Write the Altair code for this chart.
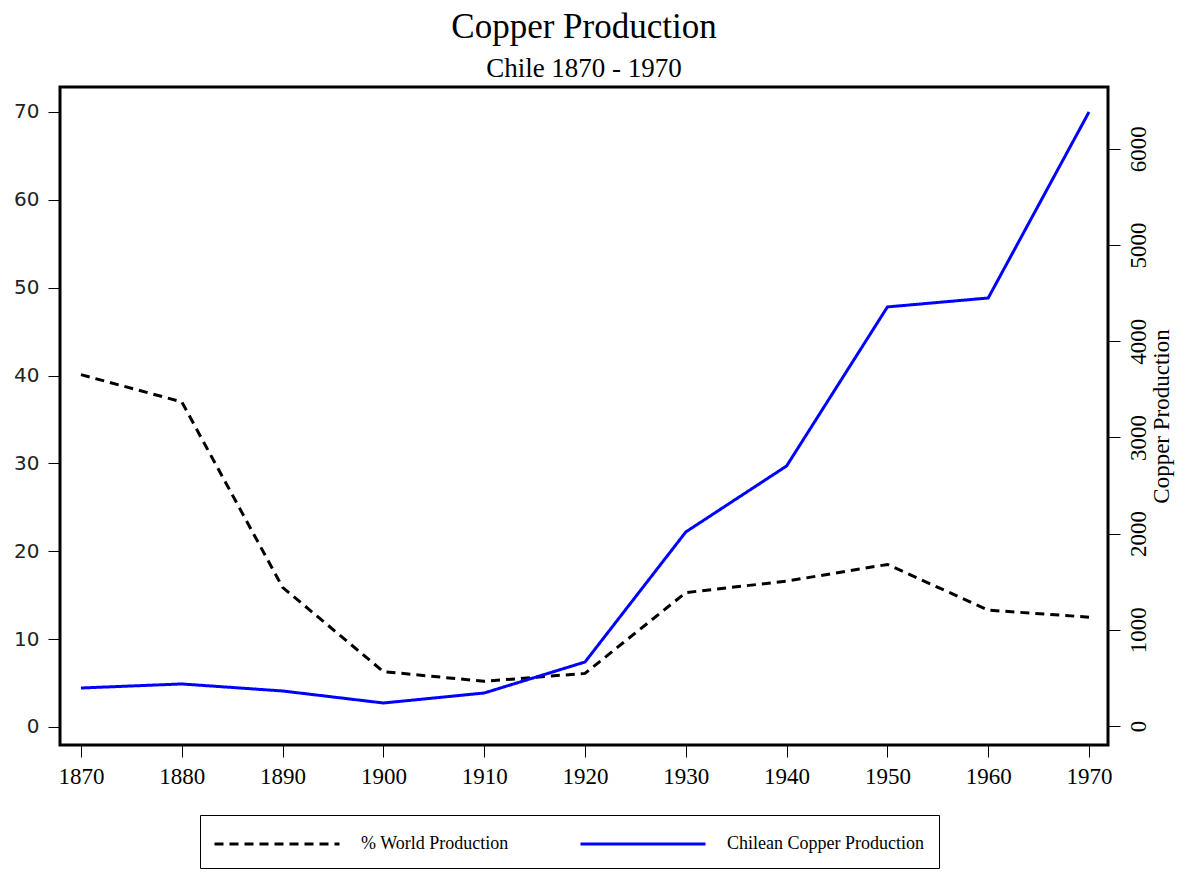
import altair as alt
import pandas as pd

years = [1870, 1880, 1890, 1900, 1910, 1920, 1930, 1940, 1950, 1960, 1970]
pct_world = [40.1, 37.0, 15.9, 6.3, 5.2, 6.1, 15.3, 16.6, 18.5, 13.3, 12.5]
chile_prod = [395, 437, 364, 239, 343, 665, 2017, 2703, 4356, 4449, 6383]
series_names = ["% World Production", "Chilean Copper Production"]
left_ticks = [0, 10, 20, 30, 40, 50, 60, 70]
right_ticks = [0, 1000, 2000, 3000, 4000, 5000, 6000]

df_pct = pd.DataFrame({"year": years, "value": pct_world, "series": series_names[0]})
df_chile = pd.DataFrame({"year": years, "value": chile_prod, "series": series_names[1]})

SERIF = "Liberation Serif"

color_scale = alt.Scale(domain=series_names, range=["black", "blue"])
dash_scale = alt.Scale(domain=series_names, range=[[9, 6], [1, 0]])
legend = alt.Legend(
    orient="none", legendX=140, legendY=728, direction="horizontal", title=None,
    symbolType="M-5,0H5", symbolSize=625, symbolStrokeWidth=3,
    symbolOffset=48, labelOffset=70, padding=15, strokeColor="black",
    labelFont=SERIF, labelFontSize=18, labelColor="black", labelLimit=0,
    columnPadding=65, symbolFillColor="transparent",
)

x = alt.X("year:Q", scale=alt.Scale(domain=[1867.92, 1971.88], nice=False, zero=False),
          axis=alt.Axis(values=years, format="d", title=None, labelFont=SERIF, labelFontSize=23,
                        labelColor="black", tickColor="black", tickSize=12, labelPadding=8,
                        domain=False, grid=False, labelFlush=False))

color = alt.Color("series:N", scale=color_scale, legend=legend)
dash = alt.StrokeDash("series:N", scale=dash_scale, legend=legend)

left = alt.Chart(df_pct).mark_line(strokeWidth=3).encode(
    x=x,
    y=alt.Y("value:Q", scale=alt.Scale(domain=[-2.05, 72.84], nice=False, zero=False),
            axis=alt.Axis(values=left_ticks, title=None, orient="left", labelFont="DejaVu Sans",
                          labelFontSize=20, labelColor="#222222", tickColor="black", tickSize=12,
                          labelPadding=9, domain=False, grid=False)),
    color=color,
    strokeDash=dash,
)

right = alt.Chart(df_chile).mark_line(strokeWidth=3).encode(
    x=x,
    y=alt.Y("value:Q", scale=alt.Scale(domain=[-197.5, 6642], nice=False, zero=False),
            axis=alt.Axis(values=right_ticks, format="d", title="Copper Production", orient="right",
                          labelFont=SERIF, labelFontSize=23, labelColor="black",
                          labelAngle=270, labelAlign="center", labelBaseline="top",
                          tickColor="black", tickSize=12, labelPadding=7, domain=False, grid=False,
                          titleFont=SERIF, titleFontSize=23, titleFontWeight="normal",
                          titleColor="black", titleAngle=270, titleBaseline="top", titlePadding=0)),
    color=color,
    strokeDash=dash,
)

chart = alt.layer(left, right).resolve_scale(y="independent").properties(
    width=1048, height=658,
    autosize=alt.AutoSizeParams(type="none"),
    padding={"left": 52, "top": 79, "right": 70, "bottom": 130},
    title=alt.Title("Copper Production", subtitle="Chile 1870 - 1970", font=SERIF, fontSize=35,
                    fontWeight="normal", color="black", subtitleFont=SERIF, subtitleFontSize=27,
                    subtitleColor="black", anchor="middle", offset=5, subtitlePadding=11),
).configure(
    background="white",
    view=alt.ViewConfig(stroke="black", strokeWidth=3),
)

chart.save("out.html", embed_options={"renderer": "svg", "actions": False})
